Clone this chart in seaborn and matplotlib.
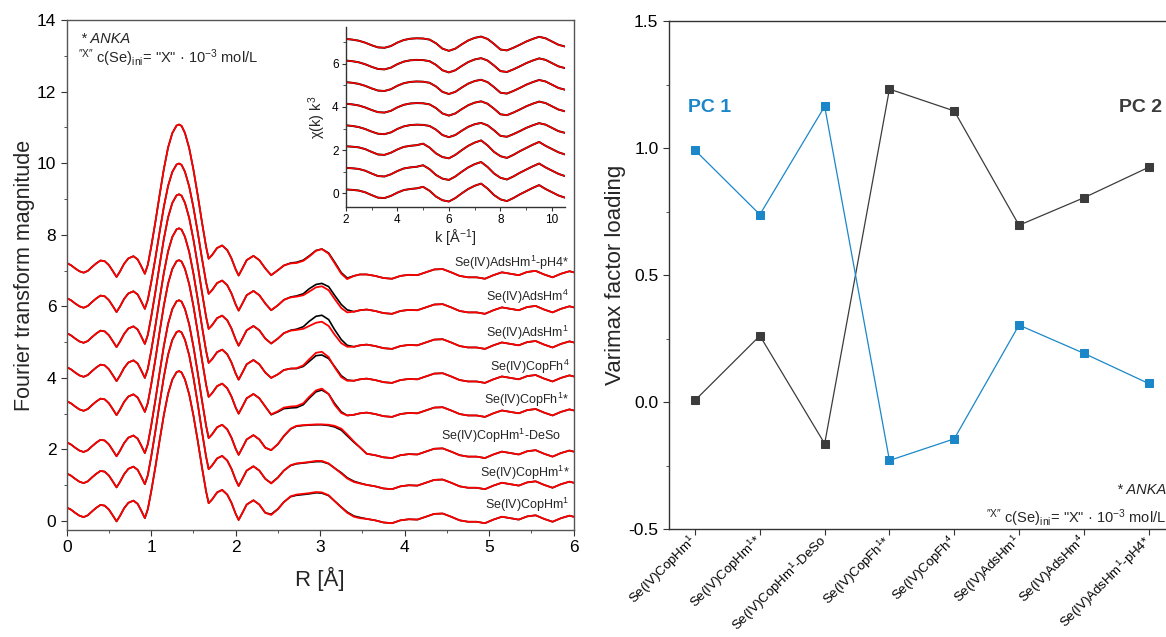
import numpy as np
import pandas as pd
import matplotlib
matplotlib.use("Agg")
import matplotlib.pyplot as plt
from matplotlib.ticker import MultipleLocator, FormatStrFormatter
import seaborn as sns

# ---------------- data ----------------
SAMPLES = ["CopHm1", "CopHm1*", "CopHm1-DeSo", "CopFh1*", "CopFh4",
           "AdsHm1", "AdsHm4", "AdsHm1-pH4*"]
TICK_LABELS = [r"Se(IV)CopHm$^{1}$", r"Se(IV)CopHm$^{1}$*", r"Se(IV)CopHm$^{1}$-DeSo",
               r"Se(IV)CopFh$^{1}$*", r"Se(IV)CopFh$^{4}$", r"Se(IV)AdsHm$^{1}$",
               r"Se(IV)AdsHm$^{4}$", r"Se(IV)AdsHm$^{1}$-pH4*"]
CURVE_LABELS = TICK_LABELS
LABEL_Y = [0.47, 1.37, 2.39, 3.41, 4.31, 5.26, 6.27, 7.24]
LABEL_X = [5.95, 5.95, 5.85, 5.95, 5.95, 5.95, 5.95, 5.95]

PC1 = [0.991, 0.738, 1.164, -0.230, -0.145, 0.303, 0.192, 0.073]
PC2 = [0.007, 0.261, -0.164, 1.232, 1.146, 0.696, 0.804, 0.924]

# Fourier transform magnitude (values relative to each spectrum's start value)
FT_START = [0.38, 1.33, 2.20, 3.35, 4.30, 5.25, 6.23, 7.21]
FT_PEAK = [3.81, 3.98, 3.97, 3.94, 3.88, 3.88, 3.76, 3.87]
R_LOW = [0.00, 0.05, 0.10, 0.15, 0.20, 0.25, 0.30, 0.35, 0.40, 0.45,
         0.50, 0.55, 0.59, 0.63, 0.68, 0.73, 0.79, 0.84, 0.88, 0.925,
         0.96, 1.00, 1.05, 1.10, 1.15, 1.20, 1.25, 1.30, 1.33, 1.36,
         1.40, 1.45, 1.50, 1.55, 1.60, 1.65, 1.68, 1.72, 1.78, 1.84,
         1.90, 1.95, 2.00, 2.035, 2.08, 2.13, 2.21, 2.28, 2.35]
FT_LOW = [0.00, -0.06, -0.15, -0.23, -0.27, -0.22, -0.11, -0.01, 0.07, 0.05,
          -0.06, -0.24, -0.39, -0.24, -0.02, 0.13, 0.19, 0.10, -0.08, -0.30,
          -0.05, 0.45, 1.15, 1.90, 2.62, 3.22, 3.62, 3.83, 3.86, 3.82,
          3.62, 3.20, 2.60, 1.90, 1.15, 0.45, 0.12, 0.22, 0.42, 0.49,
          0.36, 0.13, -0.18, -0.35, -0.15, 0.08, 0.20, 0.08, -0.15]
R_SHELL = [2.42, 2.50, 2.57, 2.65, 2.72, 2.80, 2.87, 2.95, 3.02, 3.10,
           3.17, 3.25, 3.32, 3.40, 3.47]
SHELL_FIT = [
    [-0.21, -0.05, 0.15, 0.31, 0.36, 0.38, 0.40, 0.43, 0.42, 0.34, 0.18, 0.00, -0.15, -0.26, -0.30],
    [-0.28, -0.12, 0.08, 0.23, 0.28, 0.30, 0.32, 0.35, 0.35, 0.28, 0.15, 0.00, -0.14, -0.24, -0.28],
    [-0.22, -0.05, 0.18, 0.38, 0.46, 0.48, 0.49, 0.50, 0.50, 0.49, 0.46, 0.38, 0.22, 0.02, -0.14],
    [-0.37, -0.28, -0.18, -0.15, -0.14, -0.06, 0.12, 0.30, 0.35, 0.20, -0.10, -0.33, -0.40, -0.38, -0.34],
    [-0.30, -0.20, -0.08, -0.04, -0.03, 0.05, 0.22, 0.40, 0.43, 0.28, 0.00, -0.28, -0.38, -0.38, -0.34],
    [-0.29, -0.15, 0.00, 0.07, 0.09, 0.12, 0.20, 0.29, 0.32, 0.20, -0.04, -0.28, -0.38, -0.38, -0.34],
    [-0.34, -0.20, -0.05, 0.02, 0.04, 0.08, 0.18, 0.30, 0.33, 0.22, -0.02, -0.28, -0.40, -0.38, -0.34],
    [-0.34, -0.20, -0.07, -0.01, 0.00, 0.06, 0.18, 0.34, 0.39, 0.26, 0.00, -0.30, -0.45, -0.36, -0.32],
]
SHELL_DATA = [
    [-0.19, -0.04, 0.15, 0.30, 0.34, 0.36, 0.38, 0.41, 0.40, 0.33, 0.18, 0.01, -0.13, -0.24, -0.28],
    [-0.27, -0.11, 0.08, 0.22, 0.27, 0.29, 0.31, 0.33, 0.33, 0.27, 0.15, 0.02, -0.12, -0.22, -0.27],
    [-0.22, -0.05, 0.17, 0.37, 0.45, 0.47, 0.48, 0.49, 0.49, 0.47, 0.43, 0.34, 0.18, 0.00, -0.14],
    [-0.38, -0.30, -0.21, -0.19, -0.18, -0.10, 0.08, 0.26, 0.31, 0.20, -0.06, -0.30, -0.40, -0.38, -0.34],
    [-0.30, -0.20, -0.08, -0.04, -0.04, 0.02, 0.16, 0.32, 0.34, 0.24, 0.02, -0.24, -0.36, -0.38, -0.34],
    [-0.29, -0.15, 0.00, 0.08, 0.11, 0.18, 0.33, 0.47, 0.50, 0.38, 0.10, -0.18, -0.34, -0.38, -0.34],
    [-0.34, -0.20, -0.05, 0.03, 0.06, 0.12, 0.26, 0.38, 0.41, 0.32, 0.08, -0.18, -0.33, -0.38, -0.34],
    [-0.34, -0.20, -0.07, 0.00, 0.02, 0.08, 0.20, 0.35, 0.39, 0.28, 0.03, -0.27, -0.42, -0.36, -0.32],
]
R_TAIL = [3.55, 3.65, 3.75, 3.85, 3.95, 4.05, 4.15, 4.25, 4.35, 4.45,
          4.55, 4.65, 4.75, 4.85, 4.95, 5.05, 5.15, 5.25, 5.35, 5.45,
          5.55, 5.65, 5.75, 5.85, 5.95, 6.00]
FT_TAIL = [-0.32, -0.36, -0.42, -0.44, -0.36, -0.33, -0.34, -0.26, -0.18, -0.17,
           -0.26, -0.36, -0.40, -0.40, -0.44, -0.34, -0.26, -0.30, -0.34, -0.25,
           -0.22, -0.32, -0.40, -0.30, -0.23, -0.26]

# inset: chi(k) k^3, two spectral shapes, stacked by 1 unit
K_VALUES = [2.00, 2.25, 2.50, 2.75, 3.00, 3.25, 3.50, 3.75, 4.00, 4.25,
            4.50, 4.75, 5.00, 5.25, 5.50, 5.75, 6.00, 6.25, 6.50, 6.75,
            7.00, 7.25, 7.50, 7.75, 8.00, 8.25, 8.50, 8.75, 9.00, 9.25,
            9.50, 9.75, 10.00, 10.25, 10.50]
CHI_COP = [0.18, 0.16, 0.13, 0.05, -0.08, -0.20, -0.22, -0.12, 0.03, 0.15,
           0.20, 0.23, 0.30, 0.12, -0.15, -0.32, -0.38, -0.22, 0.00, 0.20,
           0.35, 0.45, 0.22, -0.08, -0.28, -0.36, -0.22, -0.05, 0.10, 0.25,
           0.38, 0.20, 0.05, -0.10, -0.20]
CHI_ADS = [0.15, 0.12, 0.07, -0.02, -0.14, -0.24, -0.26, -0.18, -0.02, 0.10,
           0.16, 0.18, 0.17, 0.12, -0.05, -0.30, -0.40, -0.30, -0.10, 0.08,
           0.20, 0.26, 0.15, -0.08, -0.34, -0.38, -0.26, -0.12, 0.03, 0.15,
           0.25, 0.18, 0.03, -0.12, -0.20]
CHI_SHAPE = ["cop", "cop", "cop", "ads", "ads", "ads", "ads", "ads"]
CHI_OFFSET = [0, 1, 2, 3, 4, 5, 6, 7]

BLUE = "#1b87c9"
GREY = "#3c3c3c"
CONC_LEFT = '$^{\u2033\\mathrm{X}\u2033}$ c(Se)$_{\\mathrm{ini}}$= "X" · 10$^{\\mathrm{-3}}$ mol/L'
CONC_RIGHT = '$^{\u2033\\mathrm{X}\u2033}$ $c$(Se)$_{\\mathrm{ini}}$= "X" · 10$^{\\mathrm{-3}}$ mol/L'

# ---------------- style ----------------
sns.set_style("ticks")
plt.rcParams.update({
    "font.family": ["Liberation Sans", "DejaVu Sans"],
    "mathtext.fontset": "custom",
    "mathtext.rm": "Liberation Sans",
    "mathtext.it": "Liberation Sans:italic",
    "mathtext.bf": "Liberation Sans:bold",
    "mathtext.default": "regular",
    "axes.edgecolor": "#333333",
    "axes.linewidth": 1.0,
    "xtick.color": "#333333",
    "ytick.color": "#333333",
    "xtick.labelcolor": "black",
    "ytick.labelcolor": "black",
    "xtick.direction": "out",
    "ytick.direction": "out",
    "xtick.major.size": 4,
    "ytick.major.size": 4,
    "xtick.minor.size": 2.5,
    "ytick.minor.size": 2.5,
})

fig = plt.figure(figsize=(11.66, 6.37), dpi=100)

# ---------------- left panel ----------------
ax = fig.add_axes([0.0572, 0.168, 0.4348, 0.8006])
rl = np.array(R_LOW)
low = np.array(FT_LOW)
in_peak = (rl > 0.95) & (rl < 1.66)
r_all = np.concatenate([rl, R_SHELL, R_TAIL])
frames = []
for i, s in enumerate(SAMPLES):
    low_i = np.where(in_peak, low * FT_PEAK[i] / max(FT_LOW), low)
    for kind, shell in (("data", SHELL_DATA[i]), ("fit", SHELL_FIT[i])):
        y = np.concatenate([low_i, shell, FT_TAIL]) + FT_START[i]
        frames.append(pd.DataFrame({"R": r_all, "FT": y, "sample": s, "kind": kind}))
ft = pd.concat(frames, ignore_index=True)

for s in SAMPLES:
    d = ft[(ft["sample"] == s) & (ft["kind"] == "data")]
    sns.lineplot(data=d, x="R", y="FT", ax=ax, color="black", lw=1.2,
                 sort=False, estimator=None)
for s in SAMPLES:
    d = ft[(ft["sample"] == s) & (ft["kind"] == "fit")]
    sns.lineplot(data=d, x="R", y="FT", ax=ax, color="#ff0000", lw=1.3,
                 sort=False, estimator=None)

for i, lab in enumerate(CURVE_LABELS):
    ax.text(LABEL_X[i], LABEL_Y[i] - 0.13, lab, ha="right", va="baseline", fontsize=9)

ax.set_xlim(0, 6)
ax.set_ylim(-0.25, 14)
ax.xaxis.set_major_locator(MultipleLocator(1))
ax.xaxis.set_minor_locator(MultipleLocator(0.5))
ax.yaxis.set_major_locator(MultipleLocator(2))
ax.yaxis.set_minor_locator(MultipleLocator(1))
ax.tick_params(labelsize=12.5)
ax.set_xlabel("R [Å]", fontsize=16)
ax.set_ylabel("Fourier transform magnitude", fontsize=15.5)
ax.xaxis.set_label_coords(0.5, -0.073)
ax.yaxis.set_label_coords(-0.062, 0.5)
for sp in ax.spines.values():
    sp.set_visible(True)
    sp.set_color("#555555")

ax.text(0.028, 0.963, "* ANKA", transform=ax.transAxes, fontsize=10.5,
        style="italic", va="center", ha="left")
ax.text(0.022, 0.925, CONC_LEFT, transform=ax.transAxes, fontsize=10.5,
        va="center", ha="left")

# ---------------- inset ----------------
axi = fig.add_axes([0.2965, 0.6755, 0.188, 0.282])
shapes = {"cop": np.array(CHI_COP), "ads": np.array(CHI_ADS)}
chi_frames = []
for i, s in enumerate(SAMPLES):
    chi_frames.append(pd.DataFrame({"k": K_VALUES,
                                    "chi": shapes[CHI_SHAPE[i]] + CHI_OFFSET[i],
                                    "sample": s}))
chi = pd.concat(chi_frames, ignore_index=True)
for s in SAMPLES:
    d = chi[chi["sample"] == s]
    sns.lineplot(data=d, x="k", y="chi", ax=axi, color="black", lw=1.4,
                 sort=False, estimator=None)
for s in SAMPLES:
    d = chi[chi["sample"] == s]
    sns.lineplot(data=d, x="k", y="chi", ax=axi, color="#ff0000", lw=1.1,
                 sort=False, estimator=None)
axi.set_xlim(2, 10.5)
axi.set_ylim(-0.62, 7.7)
axi.xaxis.set_major_locator(MultipleLocator(2))
axi.xaxis.set_minor_locator(MultipleLocator(1))
axi.yaxis.set_major_locator(MultipleLocator(2))
axi.yaxis.set_minor_locator(MultipleLocator(1))
axi.tick_params(labelsize=8.5, length=3, pad=2)
axi.tick_params(which="minor", length=2)
axi.set_xlabel("k [Å$^{-1}$]", fontsize=10.5)
axi.set_ylabel("χ(k) k$^{3}$", fontsize=10.5)
axi.xaxis.set_label_coords(0.5, -0.115)
axi.yaxis.set_label_coords(-0.08, 0.5)
axi.spines["top"].set_visible(False)
axi.spines["right"].set_visible(False)
axi.patch.set_alpha(0)

# ---------------- right panel ----------------
axr = fig.add_axes([0.5736, 0.1695, 0.434, 0.7975])
pcs = pd.DataFrame({"pos": list(range(len(SAMPLES))) * 2,
                    "loading": PC1 + PC2,
                    "pc": ["PC 1"] * len(PC1) + ["PC 2"] * len(PC2)})
sns.lineplot(data=pcs[pcs["pc"] == "PC 2"], x="pos", y="loading", ax=axr,
             color=GREY, lw=0.9, marker="s", markersize=6,
             markeredgecolor=GREY, estimator=None)
sns.lineplot(data=pcs[pcs["pc"] == "PC 1"], x="pos", y="loading", ax=axr,
             color=BLUE, lw=0.9, marker="s", markersize=6,
             markeredgecolor=BLUE, estimator=None)
axr.set_xlim(-0.406, 7.406)
axr.set_ylim(-0.5, 1.5)
axr.set_xticks(range(len(SAMPLES)))
axr.set_xticklabels(TICK_LABELS, rotation=45, ha="right", va="center",
                    rotation_mode="anchor", fontsize=9.5)
axr.tick_params(axis="x", pad=3)
axr.yaxis.set_major_locator(MultipleLocator(0.5))
axr.yaxis.set_minor_locator(MultipleLocator(0.25))
axr.yaxis.set_major_formatter(FormatStrFormatter("%.1f"))
axr.tick_params(axis="y", labelsize=12.5)
axr.set_xlabel("")
axr.set_ylabel("Varimax factor loading", fontsize=16)
axr.yaxis.set_label_coords(-0.085, 0.5)
axr.spines["right"].set_visible(False)
axr.spines["top"].set_visible(True)

axr.text(-0.11, 1.16, "PC 1", color=BLUE, fontsize=14, fontweight="bold",
         ha="left", va="center")
axr.text(7.2, 1.16, "PC 2", color=GREY, fontsize=14, fontweight="bold",
         ha="right", va="center")
axr.text(0.982, 0.077, "* ANKA", transform=axr.transAxes, fontsize=10.5,
         style="italic", ha="right", va="center")
axr.text(0.982, 0.022, CONC_RIGHT, transform=axr.transAxes, fontsize=10.5,
         ha="right", va="center")

fig.savefig("out.png", dpi=100)
